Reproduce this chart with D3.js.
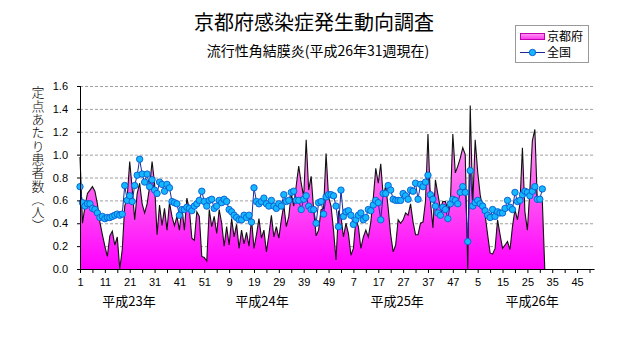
<!DOCTYPE html>
<html><head><meta charset="utf-8">
<script src="https://cdn.jsdelivr.net/npm/d3@7"></script>
<style>body{margin:0;background:#fff;} svg{display:block;}</style>
</head><body>
<svg id="c" width="631" height="347"></svg>
<script>
// ---- data ----
const years = ["平成23年", "平成24年", "平成25年", "平成26年"];
const weeksPerYear = [52, 52, 52, 52];
const seriesNames = ["京都府", "全国"];
const yTicks = [0.0, 0.2, 0.4, 0.6, 0.8, 1.0, 1.2, 1.4, 1.6];
// 京都府 定点あたり患者数 (H23w1 .. H26w31)
const kyoto = [
  0.98,0.40,0.55,0.66,0.69,0.72,0.68,0.57,0.41,0.30,
  0.20,0.11,0.29,0.33,0.21,0.28,0.00,0.17,0.55,0.63,
  0.94,0.70,0.43,0.66,0.75,0.57,0.49,0.57,0.72,0.94,
  0.75,0.30,0.56,0.38,0.53,0.34,0.58,0.46,0.38,0.46,
  0.34,0.54,0.34,0.62,0.52,0.27,0.25,0.50,0.46,0.11,
  0.10,0.07,0.52,0.37,0.46,0.31,0.52,0.40,0.20,0.37,
  0.21,0.44,0.28,0.39,0.18,0.34,0.22,0.32,0.20,0.44,
  0.18,0.30,0.44,0.27,0.34,0.15,0.30,0.47,0.28,0.37,
  0.27,0.43,0.56,0.37,0.46,0.66,0.55,0.73,0.90,0.75,
  0.63,1.13,0.69,0.81,0.52,0.29,0.34,0.52,0.53,1.01,
  0.63,0.55,0.34,0.08,0.50,0.46,0.28,0.40,0.31,0.12,
  0.18,0.43,0.37,0.18,0.28,0.34,0.28,0.41,0.62,0.88,
  0.75,0.92,0.63,0.73,0.53,0.30,0.15,0.21,0.43,0.40,
  0.43,0.49,0.47,0.57,0.41,0.30,0.30,0.40,0.41,0.59,
  1.18,0.59,0.36,0.78,0.65,0.53,0.59,0.59,0.52,0.57,
  1.18,0.84,0.90,0.97,1.06,1.00,0.00,1.43,0.56,1.13,
  0.85,0.65,0.53,0.47,0.30,0.14,0.13,0.18,0.43,0.30,
  0.18,0.21,0.24,0.17,0.37,0.52,0.43,0.57,1.06,0.50,
  0.34,0.69,1.12,1.22,0.59,0.62,0.60
];
// 全国 定点あたり患者数
const national = [
  0.72,0.58,0.55,0.57,0.57,0.53,0.52,0.49,0.45,0.46,
  0.44,0.45,0.45,0.46,0.47,0.48,0.47,0.48,0.73,0.60,
  0.64,0.59,0.73,0.82,0.96,0.83,0.76,0.83,0.72,0.78,
  0.69,0.66,0.76,0.74,0.68,0.74,0.71,0.59,0.58,0.57,
  0.47,0.52,0.52,0.54,0.53,0.51,0.55,0.57,0.60,0.68,
  0.59,0.55,0.60,0.61,0.53,0.55,0.60,0.58,0.61,0.59,
  0.52,0.50,0.47,0.45,0.43,0.43,0.47,0.45,0.47,0.41,
  0.71,0.59,0.57,0.59,0.62,0.57,0.55,0.60,0.55,0.53,
  0.57,0.55,0.65,0.59,0.60,0.67,0.68,0.60,0.60,0.52,
  0.61,0.64,0.55,0.52,0.52,0.40,0.58,0.59,0.48,0.63,
  0.65,0.65,0.64,0.55,0.37,0.69,0.46,0.50,0.51,0.47,
  0.39,0.43,0.47,0.49,0.43,0.45,0.52,0.51,0.56,0.60,
  0.58,0.43,0.66,0.66,0.73,0.69,0.61,0.60,0.60,0.60,
  0.66,0.64,0.61,0.69,0.68,0.75,0.61,0.74,0.72,0.76,
  0.82,0.65,0.61,0.55,0.49,0.47,0.54,0.52,0.44,0.57,
  0.61,0.60,0.57,0.67,0.72,0.67,0.24,0.86,0.55,0.58,
  0.60,0.57,0.55,0.51,0.47,0.45,0.52,0.46,0.50,0.49,
  0.49,0.53,0.60,0.54,0.52,0.67,0.59,0.60,0.65,0.68,
  0.67,0.64,0.68,0.72,0.61,0.61,0.70
];

// ---- categories ----
const cats = [];
years.forEach((yr, yi) => { for (let w = 1; w <= weeksPerYear[yi]; w++) cats.push({year: yi, week: w}); });

// ---- layout ----
const svg = d3.select("#c");
const L = 80, R = 594.5, T = 86, B = 269;
const x = d3.scaleLinear().domain([0, cats.length - 1]).range([L, R]);
const y = d3.scaleLinear().domain([0, 1.6]).range([B, T]);
const FONT = "'Noto Sans CJK JP', 'Noto Sans', sans-serif";

const defs = svg.append("defs");
const grad = defs.append("linearGradient").attr("id", "pink")
  .attr("gradientUnits", "userSpaceOnUse").attr("x1", 0).attr("x2", 0).attr("y1", y(1.6)).attr("y2", y(0));
grad.append("stop").attr("offset", "0%").attr("stop-color", "#ffd0ff");
grad.append("stop").attr("offset", "55%").attr("stop-color", "#ff60f0");
grad.append("stop").attr("offset", "100%").attr("stop-color", "#ff00ff");
const grad2 = defs.append("linearGradient").attr("id", "pinkLeg").attr("x1", 0).attr("x2", 0).attr("y1", 0).attr("y2", 1);
grad2.append("stop").attr("offset", "0%").attr("stop-color", "#ff9cf0");
grad2.append("stop").attr("offset", "100%").attr("stop-color", "#ff30f0");

// grid
svg.append("g").selectAll("line").data(yTicks.filter(t => t > 0)).join("line")
  .attr("x1", L).attr("x2", R).attr("y1", d => y(d) + 0.5).attr("y2", d => y(d) + 0.5)
  .attr("stroke", "#a0a0a0").attr("stroke-dasharray", "3,2").attr("stroke-width", 1);

// Kyoto area (blank following week drawn as zero, as in the source chart)
const kPts = kyoto.map((v, i) => [i, v]).concat([[kyoto.length, 0]]);
svg.append("path").datum(kPts)
  .attr("d", d3.area().x(d => x(d[0])).y0(y(0)).y1(d => y(d[1])))
  .attr("fill", "url(#pink)");
svg.append("path").datum(kPts)
  .attr("d", d3.line().x(d => x(d[0])).y(d => y(d[1])))
  .attr("fill", "none").attr("stroke", "#111").attr("stroke-width", 1.1);

// national line + markers
svg.append("path").datum(national)
  .attr("d", d3.line().x((d, i) => x(i)).y(d => y(d)))
  .attr("fill", "none").attr("stroke", "#1a2a9a").attr("stroke-width", 1);
svg.append("g").selectAll("circle").data(national).join("circle")
  .attr("cx", (d, i) => x(i)).attr("cy", d => y(d)).attr("r", 3.2)
  .attr("fill", "#14b8ff").attr("stroke", "#0a5ad0").attr("stroke-width", 0.9);

// axes
const yAxis = d3.axisLeft(y).tickValues(yTicks).tickFormat(d3.format(".1f")).tickSize(3).tickPadding(9);
const gy = svg.append("g").attr("transform", `translate(${L},0)`).call(yAxis);
const xAxis = d3.axisBottom(x).tickValues(d3.range(0, cats.length, 5)).tickSize(4).tickFormat(i => i % 10 === 0 ? cats[i].week : "");
const gx = svg.append("g").attr("transform", `translate(0,${B})`).call(xAxis);
[gx, gy].forEach(g => {
  g.select(".domain").attr("stroke", "#000");
  g.selectAll(".tick line").attr("stroke", "#000");
  g.selectAll("text").attr("fill", "#000").style("font-family", "'Liberation Sans', Arial, sans-serif").style("font-size", "11px");
});
gx.select(".domain").attr("d", `M${L},0.5H${R}`);
gy.select(".domain").attr("d", `M0.5,${B}V${T}`);
gx.selectAll("text").attr("dy", "0.9em");

// year labels
const yearLabelPos = [19.7, 73.2, 127.6, 181.9];
svg.append("g").selectAll("text").data(years).join("text")
  .attr("x", (d, i) => x(yearLabelPos[i])).attr("y", 306)
  .attr("text-anchor", "middle").style("font-family", FONT).style("font-size", "13px").text(d => d);

// y title (vertical)
svg.append("text").attr("x", 38).attr("y", 86)
  .style("writing-mode", "vertical-rl").style("font-family", FONT).style("font-size", "13px")
  .style("font-weight", "300").style("letter-spacing", "0.3px").text("定点あたり患者数（人）");

// titles
svg.append("text").attr("x", 314).attr("y", 30).attr("text-anchor", "middle")
  .style("font-family", FONT).style("font-size", "20px").text("京都府感染症発生動向調査");
svg.append("text").attr("x", 318).attr("y", 56).attr("text-anchor", "middle")
  .style("font-family", FONT).style("font-size", "14px").text("流行性角結膜炎(平成26年31週現在)");

// legend
const lg = svg.append("g");
lg.append("rect").attr("x", 515.5).attr("y", 25.5).attr("width", 73).attr("height", 37)
  .attr("fill", "#fff").attr("stroke", "#999");
lg.append("rect").attr("x", 520.5).attr("y", 33.5).attr("width", 24).attr("height", 6)
  .attr("fill", "url(#pinkLeg)").attr("stroke", "#c000b0");
lg.append("line").attr("x1", 520).attr("x2", 545).attr("y1", 52.5).attr("y2", 52.5).attr("stroke", "#1a2a9a");
lg.append("circle").attr("cx", 532.5).attr("cy", 52.5).attr("r", 3.2).attr("fill", "#14b8ff").attr("stroke", "#0a5ad0").attr("stroke-width", 0.9);
lg.selectAll("text.lt").data(seriesNames).join("text").attr("class", "lt")
  .attr("x", 547).attr("y", (d, i) => 41 + i * 16)
  .style("font-family", FONT).style("font-size", "12px").text(d => d);
</script>
</body></html>
